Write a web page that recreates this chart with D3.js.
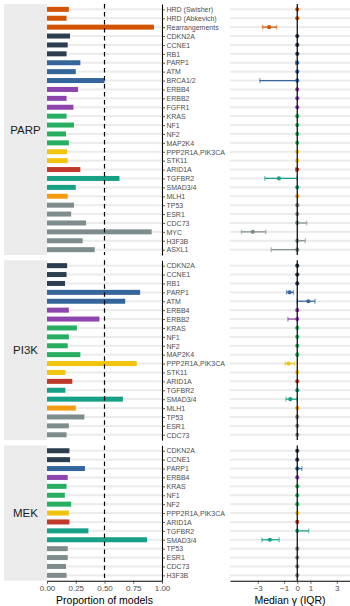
<!DOCTYPE html>
<html><head><meta charset="utf-8">
<script src="https://cdn.jsdelivr.net/npm/d3@7"></script>
<style>body{margin:0;background:#fff;} svg{display:block;font-family:"Liberation Sans",Arial,sans-serif;}</style>
</head><body><svg id="c" width="350" height="606"></svg>
<script>
// ---------------- data ----------------
const panelNames = ["PARP", "PI3K", "MEK"];

const parpGenes = ["HRD (Swisher)","HRD (Abkevich)","Rearrangements","CDKN2A","CCNE1","RB1","PARP1","ATM","BRCA1/2","ERBB4","ERBB2","FGFR1","KRAS","NF1","NF2","MAP2K4","PPP2R1A,PIK3CA","STK11","ARID1A","TGFBR2","SMAD3/4","MLH1","TP53","ESR1","CDC73","MYC","H3F3B","ASXL1"];
const parpProp   = [0.19,0.17,0.93,0.20,0.18,0.17,0.29,0.25,0.50,0.27,0.17,0.23,0.17,0.235,0.165,0.19,0.175,0.18,0.29,0.63,0.25,0.18,0.235,0.21,0.34,0.91,0.31,0.415];
const parpMedian = [0,0,-2.13,0,0,0,0,0,0,0,0,0,0,0,0,0,0,0,0,-1.39,0,0,0,0,0,-3.37,0,0];
const parpLow    = [0,0,-2.63,0,0,0,-0.12,0,-2.84,0,0,0,0,0,0,0,0,0,-0.12,-2.46,0,0,0,0,0,-4.23,0,-1.97];
const parpHigh   = [0,0,-1.57,0,0,0,0,0,0,0,0,0,0,0,0,0,0,0,0,0,0,0,0,0,0.71,-2.38,0.61,0];

const pi3kGenes = ["CDKN2A","CCNE1","RB1","PARP1","ATM","ERBB4","ERBB2","KRAS","NF1","NF2","MAP2K4","PPP2R1A,PIK3CA","STK11","ARID1A","TGFBR2","SMAD3/4","MLH1","TP53","ESR1","CDC73"];
const pi3kProp   = [0.175,0.17,0.157,0.81,0.68,0.19,0.456,0.26,0.19,0.18,0.29,0.78,0.16,0.22,0.16,0.66,0.25,0.325,0.19,0.17];
const pi3kMedian = [0,0,0,-0.58,0.84,0,0,0,0,0,0,-0.66,0,0,0,-0.53,0,0,0,0];
const pi3kLow    = [0,0,0,-0.81,0,0,-0.71,0,0,0,-0.05,-0.91,0,0,0,-0.86,0,-0.05,0,0];
const pi3kHigh   = [0,0,0,-0.30,1.34,0,0,0,0,0,0.05,-0.20,0,0,0,0,0,0,0,0];

const mekGenes = ["CDKN2A","CCNE1","PARP1","ERBB4","KRAS","NF1","NF2","PPP2R1A,PIK3CA","ARID1A","TGFBR2","SMAD3/4","TP53","ESR1","CDC73","H3F3B"];
const mekProp   = [0.195,0.20,0.33,0.18,0.17,0.155,0.21,0.19,0.195,0.36,0.87,0.18,0.18,0.165,0.17];
const mekMedian = [0,0,0,0,0,0,0,0,0,0,-2.08,0,0,0,0];
const mekLow    = [0,0,0,0,0,0,0,0,0,0,-2.68,0,0,0,0];
const mekHigh   = [0,0,0.35,0,0,0,0,0,0,0.86,-1.37,0,0,0,0];

const geneGroup = {
  "HRD (Swisher)":"hrd","HRD (Abkevich)":"hrd","Rearrangements":"hrd",
  "CDKN2A":"cycle","CCNE1":"cycle","RB1":"cycle",
  "PARP1":"ddr","ATM":"ddr","BRCA1/2":"ddr",
  "ERBB4":"rtk","ERBB2":"rtk","FGFR1":"rtk",
  "KRAS":"ras","NF1":"ras","NF2":"ras","MAP2K4":"ras",
  "PPP2R1A,PIK3CA":"pi3k","STK11":"pi3k",
  "ARID1A":"chrom",
  "TGFBR2":"tgfb","SMAD3/4":"tgfb",
  "MLH1":"mmr",
  "TP53":"other","ESR1":"other","CDC73":"other","MYC":"other","H3F3B":"other","ASXL1":"other"
};

const propTicks = [0, 0.25, 0.5, 0.75, 1];
const propTickLabels = ["0.00","0.25","0.50","0.75","1.00"];
const gammaTicks = [-3, -1, 0, 1, 3];
const gammaTickLabels = ["\u22123","\u22121","0","1","3"];

// ---------------- styles ----------------
const groupColor = {
  hrd:"#d35400", cycle:"#2c3e50", ddr:"#34659b", rtk:"#8e44ad", ras:"#27ae60",
  pi3k:"#f1c40f", chrom:"#c0392b", tgfb:"#16a085", mmr:"#f39c12", other:"#7f8c8d"
};

const panels = [
  {name: panelNames[0], genes: parpGenes, prop: parpProp, med: parpMedian, lo: parpLow, hi: parpHigh},
  {name: panelNames[1], genes: pi3kGenes, prop: pi3kProp, med: pi3kMedian, lo: pi3kLow, hi: pi3kHigh},
  {name: panelNames[2], genes: mekGenes, prop: mekProp, med: mekMedian, lo: mekLow, hi: mekHigh}
];

const svg = d3.select("#c");
const topY = 4, bottomY = 580.7, gap = 5.3, pad = 0.6;
const totalUnits = d3.sum(panels, p => p.genes.length - 1 + 2*pad);
const unit = (bottomY - topY - gap*(panels.length-1)) / totalUnits;

const xProp = d3.scaleLinear().domain([0,1]).range([47,162]);
const xGamma = d3.scaleLinear().domain([-5.1,4.0]).range([230,350]);
const stripX0 = 4;

let cur = topY;
panels.forEach(p => {
  const h = (p.genes.length - 1 + 2*pad) * unit;
  const t = cur, b = cur + h;
  cur = b + gap;
  const y = d3.scalePoint().domain(p.genes).range([t, b]).padding(pad);
  const rows = p.genes.map((g,i) => ({g, v:p.prop[i], m:p.med[i], lo:p.lo[i], hi:p.hi[i], c:groupColor[geneGroup[g]]}));
  const gP = svg.append("g");

  // strip
  gP.append("rect").attr("x", stripX0).attr("y", t).attr("width", xProp(0)-stripX0).attr("height", h).attr("fill", "#ebebeb");
  gP.append("text").attr("x", (stripX0 + xProp(0))/2).attr("y", (t+b)/2 + 4.2)
    .attr("text-anchor","middle").attr("font-size", 11.5).attr("fill","#1a1a1a").text(p.name);

  // background row bars (left)
  gP.selectAll(".bg").data(rows).join("rect")
    .attr("x", xProp(0)).attr("width", xProp(1)-xProp(0))
    .attr("y", d => y(d.g)-1).attr("height", 2).attr("fill", "#ebebeb");
  // bars
  gP.selectAll(".bar").data(rows).join("rect")
    .attr("x", xProp(0)).attr("width", d => xProp(d.v)-xProp(0))
    .attr("y", d => y(d.g)-2.5).attr("height", 5).attr("fill", d => d.c);
  // dashed 0.5 line
  gP.append("line").attr("x1", xProp(0.5)).attr("x2", xProp(0.5)).attr("y1", t).attr("y2", b)
    .attr("stroke","#000").attr("stroke-width",1.2).attr("stroke-dasharray","4.5,3.5");
  // right axis of left panel
  const ax = gP.append("g").attr("transform", `translate(${xProp(1)},0)`)
    .call(d3.axisRight(y).tickSize(3).tickSizeOuter(0).tickPadding(1.5));
  ax.select(".domain").attr("stroke","#000").attr("stroke-width",1.1);
  ax.selectAll(".tick line").attr("stroke","#333").attr("stroke-width",0.8);
  ax.selectAll(".tick text").attr("font-size",7).attr("fill","#4d4d4d")
    .attr("font-family",'"Liberation Sans",Arial,sans-serif');

  // right panel gridlines
  gP.selectAll(".grid").data(rows).join("rect")
    .attr("x", xGamma.range()[0]).attr("width", xGamma.range()[1]-xGamma.range()[0])
    .attr("y", d => y(d.g)-1).attr("height", 2).attr("fill", "#ebebeb");
  // error bars
  const eb = rows.filter(d => d.lo !== d.hi);
  gP.selectAll(".ebl").data(eb).join("line")
    .attr("x1", d => xGamma(d.lo)).attr("x2", d => xGamma(d.hi))
    .attr("y1", d => y(d.g)).attr("y2", d => y(d.g))
    .attr("stroke", d => d.c).attr("stroke-width", 1.2);
  eb.forEach(d => {
    [d.lo, d.hi].forEach(v => {
      gP.append("line").attr("x1", xGamma(v)).attr("x2", xGamma(v))
        .attr("y1", y(d.g)-2.4).attr("y2", y(d.g)+2.4)
        .attr("stroke", d.c).attr("stroke-opacity",0.55).attr("stroke-width",1.4);
    });
  });
  // points
  gP.selectAll(".pt").data(rows).join("circle")
    .attr("cx", d => xGamma(d.m)).attr("cy", d => y(d.g)).attr("r", 2.1).attr("fill", d => d.c);
  // zero line
  gP.append("line").attr("x1", xGamma(0)).attr("x2", xGamma(0)).attr("y1", t).attr("y2", b)
    .attr("stroke","#000").attr("stroke-width",1.2);
});

// bottom axes
function styleAxis(g){
  g.select(".domain").attr("stroke","#000").attr("stroke-width",1.1);
  g.selectAll(".tick line").attr("stroke","#333").attr("stroke-width",0.8);
  g.selectAll(".tick text").attr("font-size",8).attr("fill","#4d4d4d")
    .attr("font-family",'"Liberation Sans",Arial,sans-serif');
}
const axB1 = svg.append("g").attr("transform",`translate(0,${bottomY})`)
  .call(d3.axisBottom(xProp).tickValues(propTicks).tickFormat((d,i)=>propTickLabels[i]).tickSize(3).tickSizeOuter(0).tickPadding(1.5));
styleAxis(axB1);
const axB2 = svg.append("g").attr("transform",`translate(0,${bottomY})`)
  .call(d3.axisBottom(xGamma).tickValues(gammaTicks).tickFormat((d,i)=>gammaTickLabels[i]).tickSize(3).tickSizeOuter(0).tickPadding(1.5));
styleAxis(axB2);

svg.append("text").attr("x", (xProp(0)+xProp(1))/2).attr("y", 604).attr("text-anchor","middle")
  .attr("font-size",10.5).attr("fill","#000").text("Proportion of models");
svg.append("text").attr("x", 290).attr("y", 604).attr("text-anchor","middle")
  .attr("font-size",10.5).attr("fill","#000").text("Median \u03b3 (IQR)");
</script>
</body></html>
